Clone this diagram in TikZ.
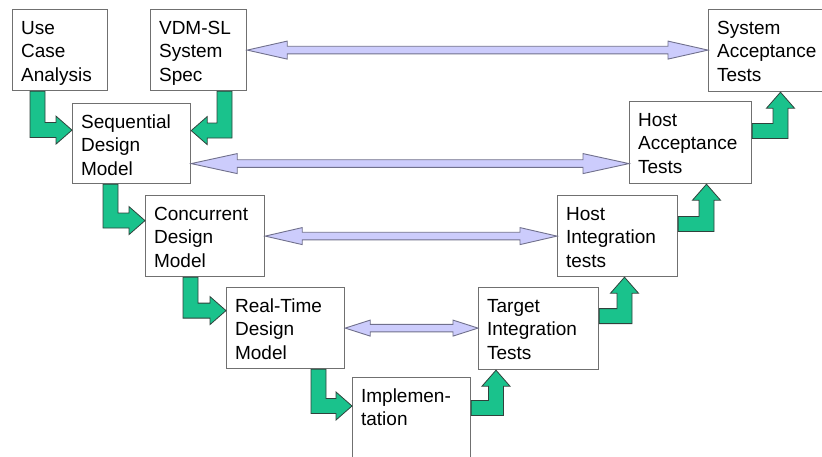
\documentclass[tikz,border=0pt]{standalone}
\usepackage{fontspec}
\setmainfont{Liberation Sans}
\usetikzlibrary{calc}

\definecolor{boxline}{RGB}{112,112,112}
\definecolor{vgreen}{RGB}{26,194,140}
\definecolor{vgreenline}{RGB}{48,66,60}
\definecolor{lav}{RGB}{204,204,252}
\definecolor{lavline}{RGB}{112,112,140}

% top-aligned text block filling a stage box of width #1 and height #2 (in pt)
\newcommand{\boxtext}[3]{\parbox[t][\dimexpr#2pt-21pt\relax][t]{\dimexpr#1pt-17pt\relax}{\raggedright\rule{0pt}{14pt}#3}}

% bent green arrows: shaft half width 7.5, head length 16, head half height 14
% down then right: #1 = top centre of the vertical shaft, #2 = tip
\newcommand{\flowDR}[2]{\draw[flow] let \p1=#1, \p2=#2 in
  ({\x1-7.5pt},\y1) -- ({\x1-7.5pt},{\y2-7.5pt}) -- ({\x2-16pt},{\y2-7.5pt}) --
  ({\x2-16pt},{\y2-14pt}) -- (\x2,\y2) -- ({\x2-16pt},{\y2+14pt}) --
  ({\x2-16pt},{\y2+7.5pt}) -- ({\x1+7.5pt},{\y2+7.5pt}) -- ({\x1+7.5pt},\y1) -- cycle;}
% down then left
\newcommand{\flowDL}[2]{\draw[flow] let \p1=#1, \p2=#2 in
  ({\x1+7.5pt},\y1) -- ({\x1+7.5pt},{\y2-7.5pt}) -- ({\x2+16pt},{\y2-7.5pt}) --
  ({\x2+16pt},{\y2-14pt}) -- (\x2,\y2) -- ({\x2+16pt},{\y2+14pt}) --
  ({\x2+16pt},{\y2+7.5pt}) -- ({\x1-7.5pt},{\y2+7.5pt}) -- ({\x1-7.5pt},\y1) -- cycle;}
% right then up: #1 = start on the right edge (shaft centre), #2 = tip
\newcommand{\flowRU}[2]{\draw[flow] let \p1=#1, \p2=#2 in
  (\x1,{\y1-7.5pt}) -- ({\x2+7.5pt},{\y1-7.5pt}) -- ({\x2+7.5pt},{\y2-16pt}) --
  ({\x2+14pt},{\y2-16pt}) -- (\x2,\y2) -- ({\x2-14pt},{\y2-16pt}) --
  ({\x2-7.5pt},{\y2-16pt}) -- ({\x2-7.5pt},{\y1+7.5pt}) -- (\x1,{\y1+7.5pt}) -- cycle;}
% horizontal two-headed link: #1 left tip, #2 right end (x only), #3 head length, #4 head half height
\newcommand{\biLink}[4]{\draw[link] let \p1=#1, \p2=#2 in
  (\x1,\y1) -- ({\x1+#3pt},{\y1+#4pt}) -- ({\x1+#3pt},{\y1+3.8pt}) --
  ({\x2-#3pt},{\y1+3.8pt}) -- ({\x2-#3pt},{\y1+#4pt}) -- (\x2,\y1) --
  ({\x2-#3pt},{\y1-#4pt}) -- ({\x2-#3pt},{\y1-3.8pt}) -- ({\x1+#3pt},{\y1-3.8pt}) --
  ({\x1+#3pt},{\y1-#4pt}) -- cycle;}

\tikzset{
  stage/.style={draw=boxline, line width=1.2pt, fill=white, anchor=north west,
    inner xsep=8.5pt, inner ysep=10.5pt, font=\fontsize{19pt}{23.5pt}\selectfont},
  flow/.style={fill=vgreen, draw=vgreenline, line width=0.8pt, line join=miter},
  link/.style={fill=lav, draw=lavline, line width=0.9pt, line join=miter},
}

\begin{document}
\begin{tikzpicture}[x=1pt, y=-1pt]
\useasboundingbox (0,0) rectangle (822,457);

% left leg: specification and design
\node[stage] (uc)   at (12,9)    {\boxtext{95}{81}{Use\\Case\\Analysis}};
\node[stage] (vdm)  at (150,9)   {\boxtext{96}{81}{VDM-SL\\System\\Spec}};
\node[stage] (seq)  at (72,103)  {\boxtext{118}{80}{Sequential\\Design\\Model}};
\node[stage] (conc) at (145,195) {\boxtext{119}{81}{Concurrent\\Design\\Model}};
\node[stage] (rt)   at (226,287) {\boxtext{118}{81}{Real-Time\\Design\\Model}};
\node[stage] (impl) at (352,377) {\boxtext{118}{90}{Implemen-\\tation}};
% right leg: testing
\node[stage] (tgt)  at (478,287) {\boxtext{120}{82}{Target\\Integration\\Tests}};
\node[stage] (hi)   at (557,195) {\boxtext{120}{81}{Host\\Integration\\tests}};
\node[stage] (ha)   at (629,101) {\boxtext{122}{82}{Host\\Acceptance\\Tests}};
\node[stage] (sa)   at (708,9)   {\boxtext{118}{82}{System\\Acceptance\\Tests}};

% verification links across the V
\biLink{(vdm.east)}{(sa.west)}{40}{9}
\biLink{([yshift=-20pt]seq.east)}{(ha.west)}{46}{10}
\biLink{(conc.east)}{(hi.west)}{37}{8.5}
\biLink{(rt.east)}{(tgt.west)}{25}{8}

% flow down the left leg
\flowDR{([xshift=25.5pt]uc.south west)}{([yshift=13.5pt]seq.west)}
\flowDL{([xshift=74.5pt]vdm.south west)}{([yshift=13pt]seq.east)}
\flowDR{([xshift=38.5pt]seq.south west)}{([yshift=15.5pt]conc.west)}
\flowDR{([xshift=45.5pt]conc.south west)}{([yshift=17.5pt]rt.west)}
\flowDR{([xshift=92.5pt]rt.south west)}{([yshift=-29pt]impl.north west)}

% flow up the right leg
\flowRU{([yshift=-31pt]impl.north east)}{([xshift=18pt]tgt.south west)}
\flowRU{([yshift=12.5pt]tgt.east)}{([xshift=67.5pt]hi.south west)}
\flowRU{([yshift=12pt]hi.east)}{([xshift=77.5pt]ha.south west)}
\flowRU{([yshift=11.5pt]ha.east)}{([xshift=72.5pt]sa.south west)}
\end{tikzpicture}
\end{document}
